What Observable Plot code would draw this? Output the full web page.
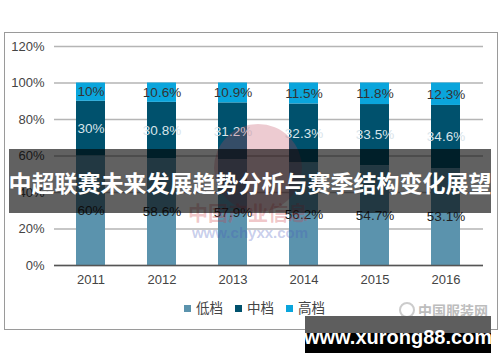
<!DOCTYPE html>
<html>
<head>
<meta charset="utf-8">
<script src="https://cdn.jsdelivr.net/npm/d3@7"></script>
<script src="https://cdn.jsdelivr.net/npm/@observablehq/plot@0.6"></script>
<style>
  html, body { margin: 0; padding: 0; background: #fff; }
  #wrap { position: relative; width: 500px; height: 362px; overflow: hidden; font-family: "Liberation Sans", Arial, "Noto Sans CJK SC", sans-serif; }
  #frame { position: absolute; left: 4px; top: 32px; width: 494px; height: 298px; border: 1px solid #9a9a9a; box-sizing: border-box; }
  #chart { position: absolute; left: 0; top: 0; }
  #legend { position: absolute; top: 297px; left: 184px; font-size: 13.5px; color: #444; font-family: "Noto Sans CJK SC", sans-serif; white-space: nowrap; }
  #legend span.sw { display: inline-block; width: 7px; height: 7px; margin-right: 5px; vertical-align: 1px; }
  #legend span.it { margin-right: 12px; }
</style>
</head>
<body>
<div id="wrap">
  <div id="frame"></div>
  <div id="chart"></div>
  <div id="legend"></div>
</div>
<script>
const years = ["2011", "2012", "2013", "2014", "2015", "2016"];
const seriesNames = ["低档", "中档", "高档"];
const lowValues = [60, 58.6, 57.9, 56.2, 54.7, 53.1];
const midValues = [30, 30.8, 31.2, 32.3, 33.5, 34.6];
const highValues = [10, 10.6, 10.9, 11.5, 11.8, 12.3];
const yTicks = [0, 20, 40, 60, 80, 100, 120];
const colors = ["#5b93ad", "#00516d", "#0aa5dc"];
const labelColors = ["#222", "#d8e4ea", "#333"];
const titleText = "中超联赛未来发展趋势分析与赛季结构变化展望";
const siteText = "www.xurong88.com";
const watermarkCn = "中国产业信息";
const watermarkUrl = "www.chyxx.com";
const logoText = "中国服装网";

const valuesBySeries = [lowValues, midValues, highValues];
const data = [];
seriesNames.forEach((s, i) => {
  years.forEach((y, j) => {
    data.push({year: y, series: s, value: valuesBySeries[i][j]});
  });
});

const chart = Plot.plot({
  width: 500,
  height: 362,
  marginLeft: 54,
  marginRight: 17,
  marginTop: 46,
  marginBottom: 97,
  style: {fontFamily: '"Liberation Sans", Arial, sans-serif', fontSize: "13px", color: "#444", background: "transparent"},
  x: {domain: years, label: null, paddingInner: 0.59, paddingOuter: 0.295, tickSize: 0, tickPadding: 9},
  y: {domain: [0, 120], ticks: yTicks, label: null, tickFormat: d => d + "%", tickSize: 0, tickPadding: 10},
  color: {domain: seriesNames, range: colors},
  marks: [
    Plot.gridY(yTicks, {stroke: "#b5b5b5", strokeOpacity: 1, strokeWidth: 1.3}),
    Plot.axisY({ticks: yTicks, tickSize: 0, tickPadding: 10, tickFormat: d => d + "%", fontSize: 13, fill: "#444"}),
    Plot.axisX({tickSize: 0, tickPadding: 9, fontSize: 13, fill: "#444"}),
    Plot.barY(data, {x: "year", y: "value", fill: "series", order: seriesNames}),
    Plot.ruleY([0], {stroke: "#555", strokeWidth: 1.3}),
    Plot.text(data, Plot.stackY({
      x: "year", y: "value", z: "series", order: seriesNames,
      text: d => d.value + "%",
      fill: d => labelColors[seriesNames.indexOf(d.series)],
      fontSize: 13.5
    }))
  ]
});
document.getElementById("chart").appendChild(chart);

// legend
const legend = document.getElementById("legend");
seriesNames.forEach((s, i) => {
  const it = document.createElement("span");
  it.className = "it";
  it.innerHTML = `<span class="sw" style="background:${colors[i]}"></span>${s}`;
  legend.appendChild(it);
});

// overlays (watermarks and banners)
const wrap = document.getElementById("wrap");
const ov = document.createElementNS("http://www.w3.org/2000/svg", "svg");
ov.setAttribute("width", 500);
ov.setAttribute("height", 362);
ov.style.position = "absolute";
ov.style.left = "0";
ov.style.top = "0";
ov.innerHTML = `
  <circle cx="258" cy="168" r="44" fill="rgba(190,70,90,0.28)"/>
  <text x="248" y="221" text-anchor="middle" font-family="Noto Sans CJK SC" font-weight="bold" font-size="20" fill="rgba(205,60,70,0.3)">${watermarkCn}</text>
  <text x="250" y="238" text-anchor="middle" font-family="Liberation Sans" font-weight="bold" font-size="15" fill="rgba(70,90,190,0.3)">${watermarkUrl}</text>
  <circle cx="407" cy="310" r="7" fill="none" stroke="#ccc" stroke-width="2"/>
  <text x="453" y="316" text-anchor="middle" font-family="Noto Sans CJK SC" font-weight="bold" font-size="14" fill="#bdbdbd">${logoText}</text>
  <rect x="9" y="149" width="482" height="64" fill="rgba(0,0,0,0.62)"/>
  <text x="250" y="192" text-anchor="middle" font-family="Noto Sans CJK SC" font-weight="bold" font-size="23" fill="#fff">${titleText}</text>
  <rect x="305" y="316" width="186" height="17" fill="#5e5e5e"/>
  <rect x="305" y="333" width="186" height="20" fill="#000"/>
  <text x="398" y="344" text-anchor="middle" font-family="Liberation Sans" font-weight="bold" font-size="20" fill="#fff">${siteText}</text>
`;
wrap.appendChild(ov);
</script>
</body>
</html>
